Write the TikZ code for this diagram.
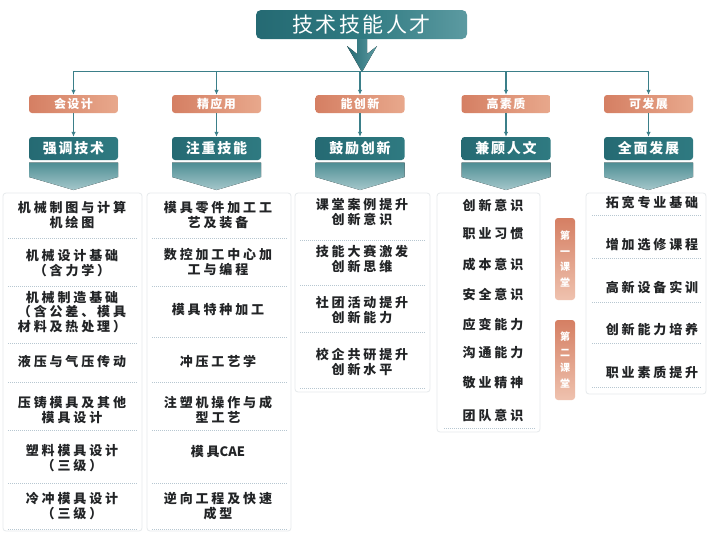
\documentclass[tikz,border=0pt]{standalone}
\usepackage{fontspec}
\usetikzlibrary{arrows.meta}
\newfontfamily\cjk{Noto Sans CJK SC}
\newfontfamily\cjkls[LetterSpace=22]{Noto Sans CJK SC}
\newfontfamily\cjkbox[LetterSpace=12]{Noto Sans CJK SC}
\definecolor{tealD}{HTML}{256A73}
\definecolor{tealM}{HTML}{2F7A81}
\definecolor{tealL}{HTML}{5C9AA1}
\definecolor{orD}{HTML}{D57F63}
\definecolor{orL}{HTML}{E8A88C}
\definecolor{arrc}{HTML}{3B7F89}
\definecolor{sepc}{HTML}{B7C7D1}
\definecolor{panc}{HTML}{E6EAEC}
\definecolor{txt}{HTML}{222426}
\tikzset{
  titlebox/.style={rounded corners=5pt, minimum width=211pt, minimum height=29pt,
    left color=tealD, right color=tealL, middle color=tealM, text=white, inner sep=0pt,
    font=\cjkbox\fontsize{21}{21}\selectfont},
  obox/.style={rounded corners=3pt, minimum width=89pt, minimum height=18pt, inner sep=0pt,
    left color=orD, right color=orL, text=white, font=\cjkbox\bfseries\fontsize{12}{12}\selectfont},
  tbox/.style={rounded corners=3pt, minimum width=89pt, minimum height=23pt, inner sep=0pt,
    left color=tealD, right color=tealM, text=white, font=\cjkbox\bfseries\fontsize{14}{14}\selectfont},
  chev/.style={top color=tealM!85, bottom color=tealL!55},
  item/.style={align=center, inner sep=0pt, text=txt, font=\cjkls\bfseries\fontsize{13}{14.5}\selectfont},
  sepline/.style={draw=sepc, line width=0.7pt, dash pattern=on 1pt off 1pt},
  panel/.style={draw=panc, line width=0.8pt, rounded corners=3pt},
  arr/.style={draw=arrc, line width=1.2pt, -{Latex[length=5pt,width=4.5pt]}},
  hline/.style={draw=arrc, line width=0.9pt},
  vlabel/.style={rounded corners=3pt, minimum width=20pt, inner sep=0pt, align=center,
    top color=orD, bottom color=orL!70, text=white, font=\cjk\bfseries\fontsize{10}{15.5}\selectfont}
}
\begin{document}
\begin{tikzpicture}[x=1pt,y=-1pt]
\useasboundingbox (0,0) rectangle (712,533);
\fill[white] (0,0) rectangle (712,533);

% panels
\draw[panel] (3,193) rectangle (142,531);
\draw[panel] (147,193) rectangle (291,531);
\draw[panel] (295,193) rectangle (430,392);
\draw[panel] (437,193) rectangle (540,432);
\draw[panel] (586,193) rectangle (706,394);

% title
\node[titlebox] (t) at (361.5,24.5) {技术技能人才};
\coordinate (hub) at (362,71);
\fill[left color=tealD, right color=tealL]
  (357,39) -- (357,54) -- (347,46) -- (362,72) -- (377,46) -- (367,54) -- (367,39) -- cycle;

% junctions
\coordinate (j1) at (73.5,71);
\coordinate (j2) at (216.5,71);
\coordinate (j3) at (360,71);
\coordinate (j4) at (506,71);
\coordinate (j5) at (648.5,71);
\draw[hline] (j1) -- (j5);

% orange boxes
\node[obox] (o1) at (73.5,104) {会设计};
\node[obox] (o2) at (216.5,104) {精应用};
\node[obox] (o3) at (360,104) {能创新};
\node[obox] (o4) at (506,104) {高素质};
\node[obox] (o5) at (648.5,104) {可发展};

% teal boxes
\node[tbox] (k1) at (73.5,148.5) {强调技术};
\node[tbox] (k2) at (216.5,148.5) {注重技能};
\node[tbox] (k3) at (360,148.5) {鼓励创新};
\node[tbox] (k4) at (506,148.5) {兼顾人文};
\node[tbox] (k5) at (648.5,148.5) {全面发展};

% chevrons
\foreach \cx in {73.5,216.5,360,506,648.5}{
  \fill[chev] (\cx-44.5,162.5) -- (\cx+44.5,162.5) -- (\cx+44.5,177) -- (\cx,190) -- (\cx-44.5,177) -- cycle;
}

% arrows
\foreach \i in {1,...,5}{
  \draw[arr] (j\i) -- (o\i.north);
  \draw[arr] (o\i.south) -- (k\i.north);
}

% column 1
\node[item] (a1) at (72,215) {机械制图与计算\\机绘图};
\node[item] (a2) at (72,263) {机械设计基础\\（含力学）};
\node[item] (a3) at (72,312) {机械制造基础\\（含公差、模具\\材料及热处理）};
\node[item] (a4) at (72,362) {液压与气压传动};
\node[item] (a5) at (72,410) {压铸模具及其他\\模具设计};
\node[item] (a6) at (72,458) {塑料模具设计\\（三级）};
\node[item] (a7) at (72,506) {冷冲模具设计\\（三级）};
\foreach \y in {238,286,343,382,430,483,529}{\draw[sepline] (8,\y) -- (138,\y);}

% column 2
\node[item] (b1) at (218,215) {模具零件加工工\\艺及装备};
\node[item] (b2) at (218,262) {数控加工中心加\\工与编程};
\node[item] (b3) at (218,310) {模具特种加工};
\node[item] (b4) at (218,362) {冲压工艺学};
\node[item] (b5) at (218,410) {注塑机操作与成\\型工艺};
\node[item] (b6) at (218,452) {模具{\cjk\bfseries CAE}};
\node[item] (b7) at (218,506) {逆向工程及快速\\成型};
\foreach \y in {238,286,337,382,430,483,529}{\draw[sepline] (152,\y) -- (287,\y);}

% column 3
\node[item] (c1) at (362,212) {课堂案例提升\\创新意识};
\node[item] (c2) at (362,259) {技能大赛激发\\创新思维};
\node[item] (c3) at (362,310) {社团活动提升\\创新能力};
\node[item] (c4) at (362,362) {校企共研提升\\创新水平};
\foreach \y in {240,285,332,388}{\draw[sepline] (300,\y) -- (426,\y);}

% column 4
\node[item] (d1) at (493,205) {创新意识};
\node[item] (d2) at (493,234) {职业习惯};
\node[item] (d3) at (493,265) {成本意识};
\node[item] (d4) at (493,295) {安全意识};
\node[item] (d5) at (493,325) {应变能力};
\node[item] (d6) at (493,353) {沟通能力};
\node[item] (d7) at (493,383) {敬业精神};
\node[item] (d8) at (493,415) {团队意识};
\draw[sepline] (444,428) -- (536,428);

% vertical labels
\node[vlabel, minimum height=82pt] (v1) at (565,259) {第\\一\\课\\堂};
\node[vlabel, minimum height=80pt] (v2) at (565,360) {第\\二\\课\\堂};

% column 5
\node[item] (e1) at (652,203) {拓宽专业基础};
\node[item] (e2) at (652,245) {增加选修课程};
\node[item] (e3) at (652,287) {高新设备实训};
\node[item] (e4) at (652,330) {创新能力培养};
\node[item] (e5) at (652,372) {职业素质提升};
\foreach \y in {215,258,302,343,387}{\draw[sepline] (592,\y) -- (702,\y);}
\end{tikzpicture}
\end{document}
